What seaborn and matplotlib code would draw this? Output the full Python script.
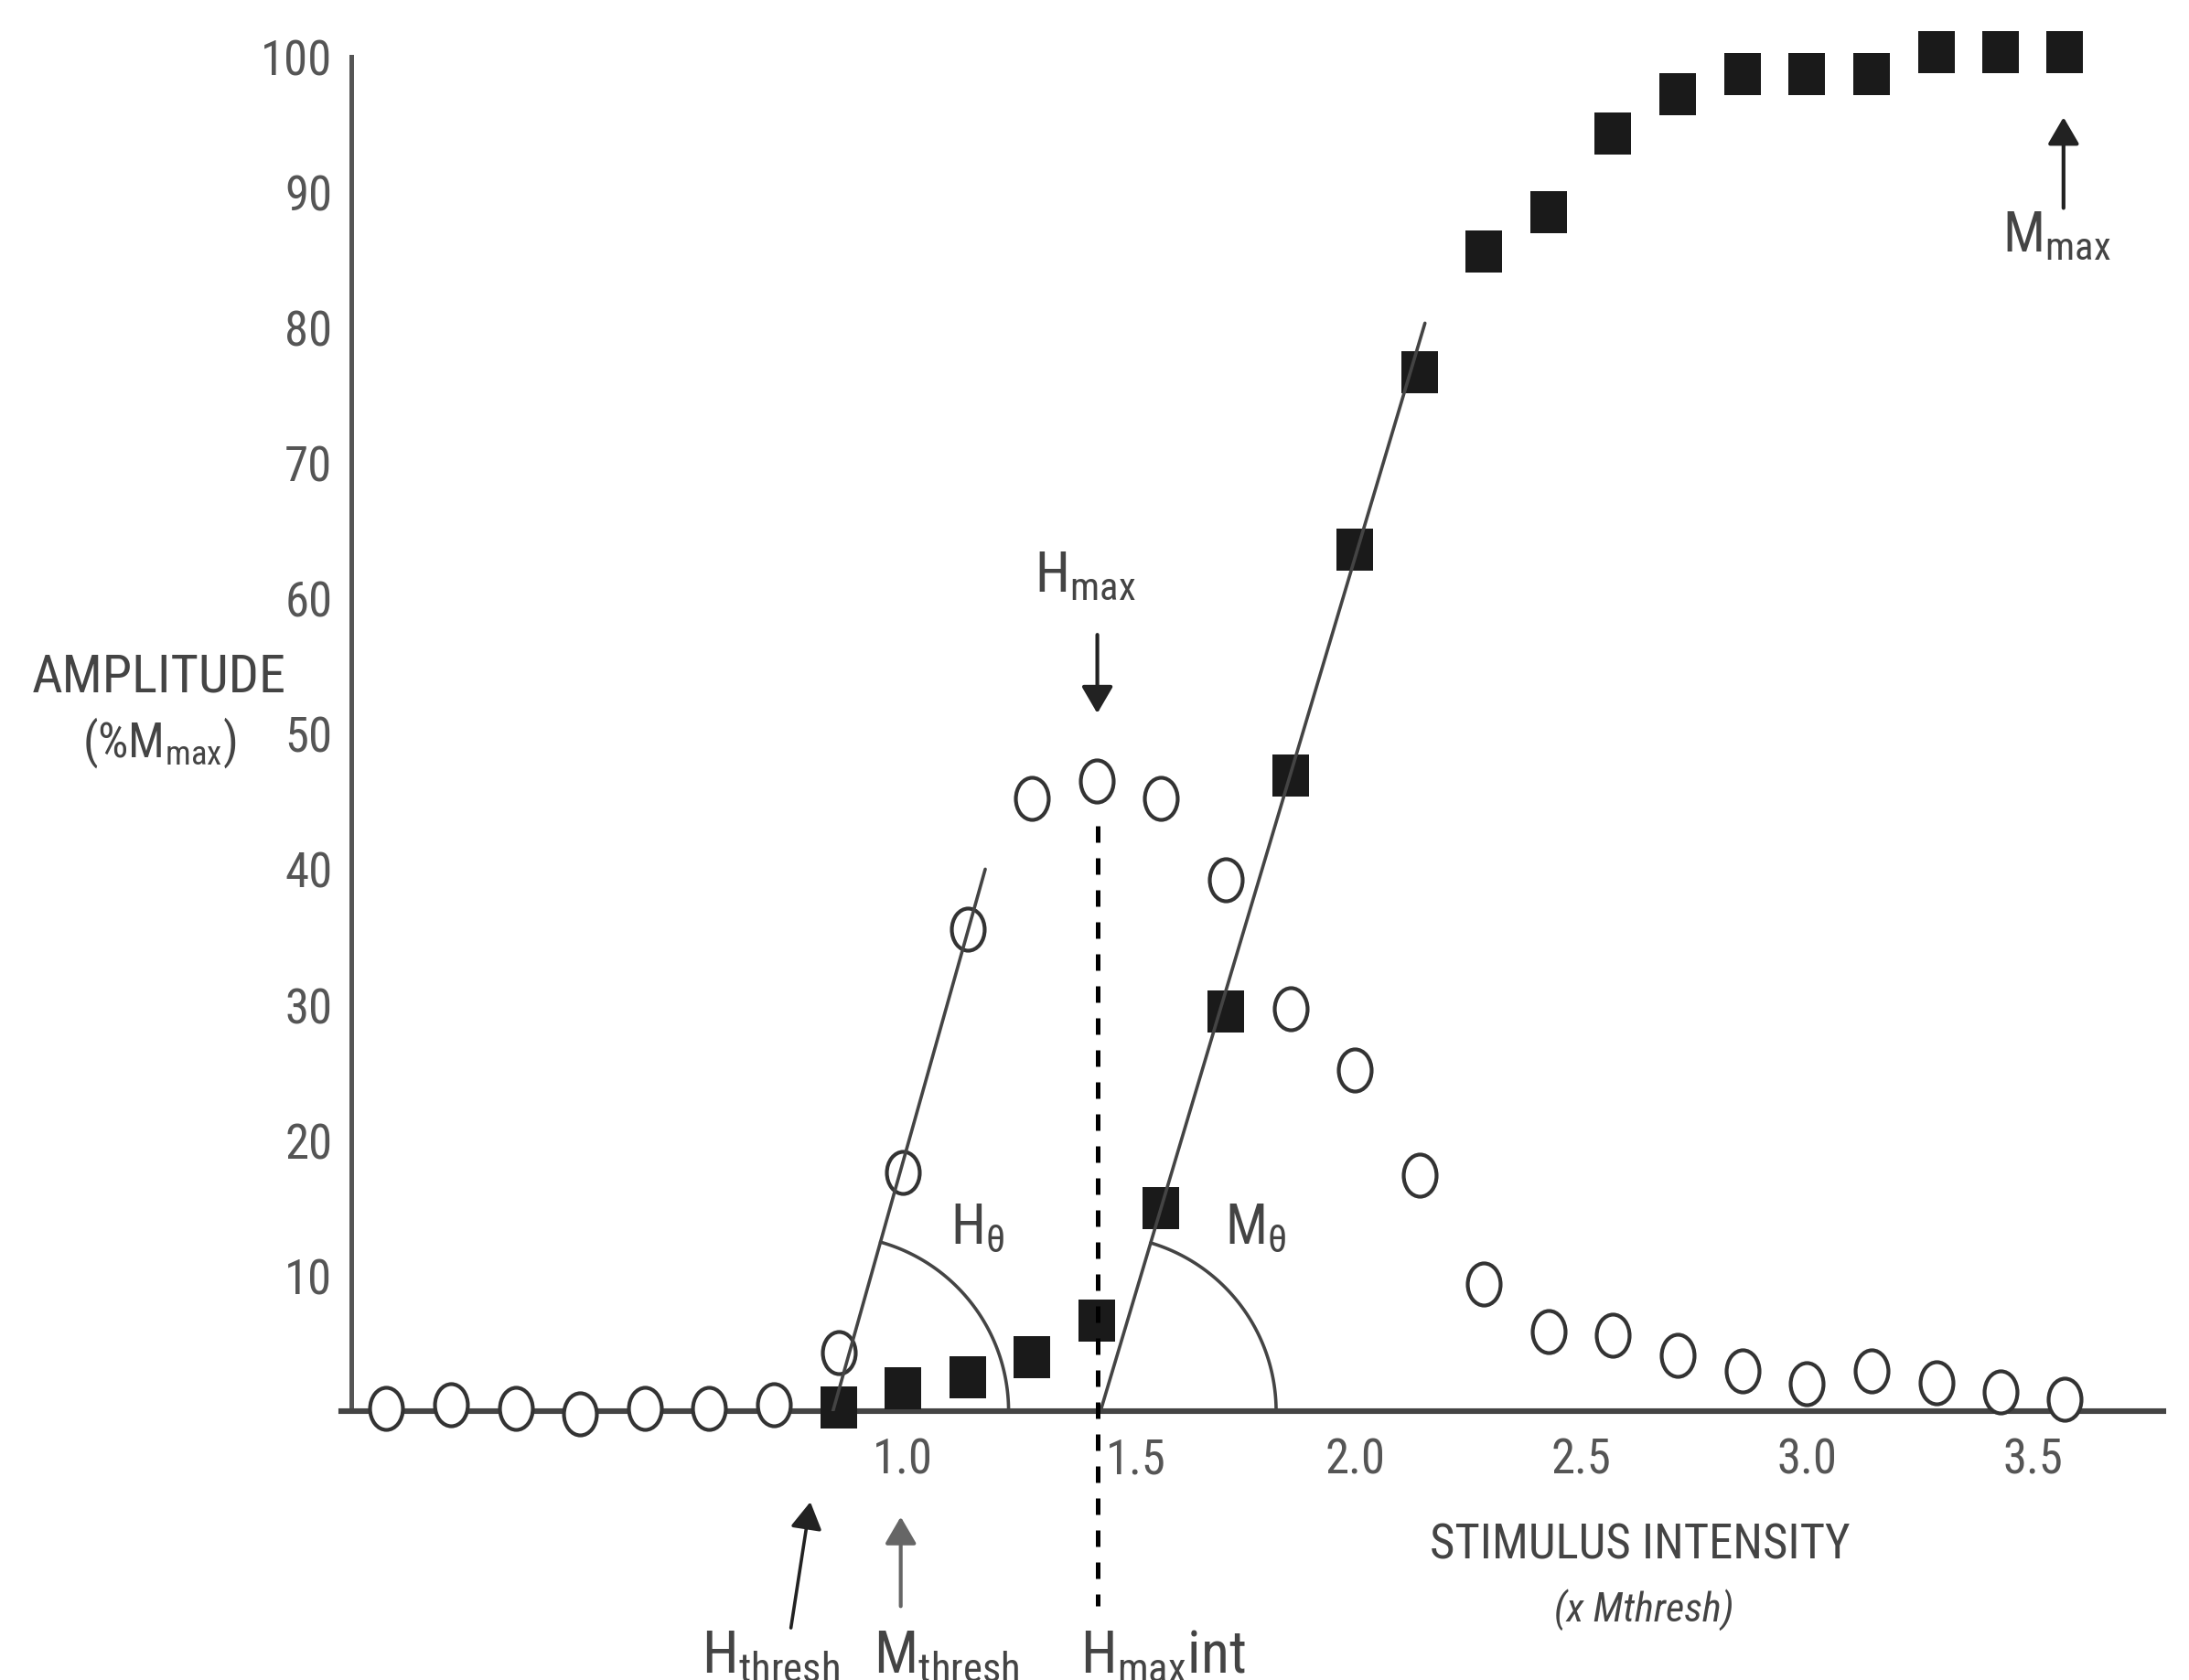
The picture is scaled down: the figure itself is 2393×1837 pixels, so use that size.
import numpy as np
import pandas as pd
import seaborn as sns
import matplotlib.pyplot as plt
import matplotlib.transforms as mtransforms
from matplotlib.path import Path
from matplotlib import font_manager

# Recruitment curves (amplitude in % of Mmax)
stimulus = [-0.143, 0.0, 0.143, 0.286, 0.429, 0.571, 0.714, 0.857, 1.0, 1.143,
            1.286, 1.429, 1.571, 1.714, 1.857, 2.0, 2.143, 2.286, 2.429, 2.571,
            2.714, 2.857, 3.0, 3.143, 3.286, 3.429, 3.571]
h_amplitude = [0.2, 0.5, 0.2, -0.2, 0.2, 0.2, 0.5, 4.3, 17.6, 35.6,
               45.2, 46.5, 45.2, 39.2, 29.7, 25.2, 17.4, 9.4, 5.9, 5.6,
               4.1, 3.0, 2.0, 3.0, 2.1, 1.4, 0.9]
m_stimulus = [0.857, 1.0, 1.143, 1.286, 1.429, 1.571, 1.714, 1.857, 2.0, 2.143,
              2.286, 2.429, 2.571, 2.714, 2.857, 3.0, 3.143, 3.286, 3.429, 3.571]
m_amplitude = [0.3, 1.7, 2.5, 4.0, 6.7, 15.0, 29.5, 46.9, 63.6, 76.7,
               85.6, 88.5, 94.3, 97.2, 98.7, 98.7, 98.7, 100.3, 100.3, 100.3]

# slope fits of the ascending limbs
h_fit_x = [0.845, 1.182]
h_fit_y = [0, 40]
m_fit_x = [1.437, 2.155]
m_fit_y = [0, 80.3]
hmax_int = 1.43

x_ticks = [1.0, 1.5, 2.0, 2.5, 3.0, 3.5]
x_tick_labels = ['1.0', '1.5', '2.0', '2.5', '3.0', '3.5']
y_ticks = [10, 20, 30, 40, 50, 60, 70, 80, 90, 100]

h_df = pd.DataFrame({'stimulus': stimulus, 'amplitude': h_amplitude})
m_df = pd.DataFrame({'stimulus': m_stimulus, 'amplitude': m_amplitude})

sns.set_style('white')
names = {f.name for f in font_manager.fontManager.ttflist}
font = next((f for f in ['Liberation Sans Narrow', 'Roboto Condensed', 'Open Sans Condensed']
             if f in names), 'Liberation Sans')
plt.rcParams['font.family'] = [font, 'DejaVu Sans']

txt = '#444444'
fig = plt.figure(figsize=(11.965, 9.1875), dpi=200)
ax = fig.add_axes([0.1559, 0.16, 0.8324, 0.80625])
ax.set_xlim(-0.243, 3.789)
ax.set_ylim(0, 100)

# custom markers: tall ellipse (H wave) and tall square (M wave)
circ = Path.unit_circle()
ellipse = Path(circ.vertices * [0.39, 0.5], circ.codes)
rect = Path([(-0.436, -0.5), (0.436, -0.5), (0.436, 0.5), (-0.436, 0.5), (-0.436, -0.5)],
            [Path.MOVETO, Path.LINETO, Path.LINETO, Path.LINETO, Path.CLOSEPOLY])

sns.scatterplot(data=h_df, x='stimulus', y='amplitude', marker=ellipse, s=275,
                color='white', edgecolor='#333333', linewidth=1.5, zorder=3,
                clip_on=False, ax=ax)
sns.scatterplot(data=m_df, x='stimulus', y='amplitude', marker=rect, s=286,
                color='#1a1a1a', linewidth=0, zorder=3, clip_on=False, ax=ax)

ax.plot(h_fit_x, h_fit_y, color='#444444', lw=1.3, zorder=4)
ax.plot(m_fit_x, m_fit_y, color='#444444', lw=1.3, zorder=4)


def angle_arc(x0, x1, y1, radius_px):
    p0 = ax.transData.transform((x0, 0))
    p1 = ax.transData.transform((x1, y1))
    ang = np.arctan2(p1[1] - p0[1], p1[0] - p0[0])
    t = np.linspace(0, ang, 80)
    pts = np.column_stack([p0[0] + radius_px * np.cos(t), p0[1] + radius_px * np.sin(t)])
    return ax.transData.inverted().transform(pts)


for fx, fy in [(h_fit_x, h_fit_y), (m_fit_x, m_fit_y)]:
    arc = angle_arc(fx[0], fx[1], fy[1], 192)
    ax.plot(arc[:, 0], arc[:, 1], color='#444444', lw=1.3, zorder=4)

# Hmax intensity marker
ax.plot([hmax_int, hmax_int], [43.2, -14.4], color='black', lw=1.8,
        ls=(0, (3.6, 3.4)), clip_on=False, zorder=5)

arrow = dict(arrowstyle='-|>,head_length=0.6,head_width=0.35', color='#222222',
             lw=1.5, shrinkA=0, shrinkB=0, mutation_scale=15)
ax.annotate('', xy=(hmax_int, 51.5), xytext=(hmax_int, 57.3), arrowprops=arrow,
            annotation_clip=False)
ax.annotate('', xy=(3.568, 95.5), xytext=(3.568, 88.8), arrowprops=arrow,
            annotation_clip=False)
ax.annotate('', xy=(0.795, -6.7), xytext=(0.752, -16.0),
            arrowprops=dict(arrow, lw=1.3), annotation_clip=False)
ax.annotate('', xy=(0.995, -7.8), xytext=(0.995, -14.4),
            arrowprops=dict(arrow, color='#666666'), annotation_clip=False)

ax.text(1.404, 60.5, r'H$_\mathregular{max}$', ha='center', va='baseline',
        fontsize=22, color=txt)
ax.text(3.433, 85.6, r'M$_\mathregular{max}$', ha='left', va='baseline',
        fontsize=22, color=txt)
ax.text(1.105, 12.4, r'H$_\mathregular{θ}$', ha='left', va='baseline',
        fontsize=22, color=txt)
ax.text(1.712, 12.4, r'M$_\mathregular{θ}$', ha='left', va='baseline',
        fontsize=22, color=txt)
ax.text(0.555, -19.25, r'H$_\mathregular{thresh}$', ha='left', va='baseline',
        fontsize=23, color=txt)
ax.text(0.935, -19.25, r'M$_\mathregular{thresh}$', ha='left', va='baseline',
        fontsize=23, color=txt)
ax.text(1.392, -19.25, r'H$_\mathregular{max}$int', ha='left', va='baseline',
        fontsize=23, color=txt)

ax.text(2.63, -10.9, 'STIMULUS INTENSITY', ha='center', va='baseline',
        fontsize=19, color=txt)
ax.text(2.64, -15.5, '(x Mthresh)', ha='center', va='baseline',
        fontsize=16, color=txt, style='italic')

ytr = ax.get_yaxis_transform()
ax.text(-0.1, 53.1, 'AMPLITUDE', transform=ytr, ha='center', va='baseline',
        fontsize=21, color=txt)
ax.text(-0.1, 48.3, r'(%M$_\mathregular{max}$)', transform=ytr, ha='center',
        va='baseline', fontsize=19, color=txt)

ax.set_xticks(x_ticks)
ax.set_xticklabels(x_tick_labels)
ax.set_yticks(y_ticks)
ax.set_xlabel('')
ax.set_ylabel('')
ax.tick_params(axis='both', direction='out', length=4, width=1.2, colors='#666666',
               labelsize=19, labelcolor='#555555')
ax.tick_params(axis='x', pad=6)
ax.tick_params(axis='y', pad=3.5)

# the 1.5 label sits just right of the dashed Hmax line
lab = ax.get_xticklabels()[1]
lab.set_transform(lab.get_transform() +
                  mtransforms.ScaledTranslation(0.04, 0, fig.dpi_scale_trans))

sns.despine(ax=ax)
ax.spines['left'].set_position(('data', -0.2206))
ax.spines['left'].set_bounds(0, 100)
ax.spines['left'].set_color('#555555')
ax.spines['left'].set_linewidth(1.8)
ax.spines['bottom'].set_color('#444444')
ax.spines['bottom'].set_linewidth(2.2)
ax.grid(False)

fig.savefig('out.png', dpi=200)
